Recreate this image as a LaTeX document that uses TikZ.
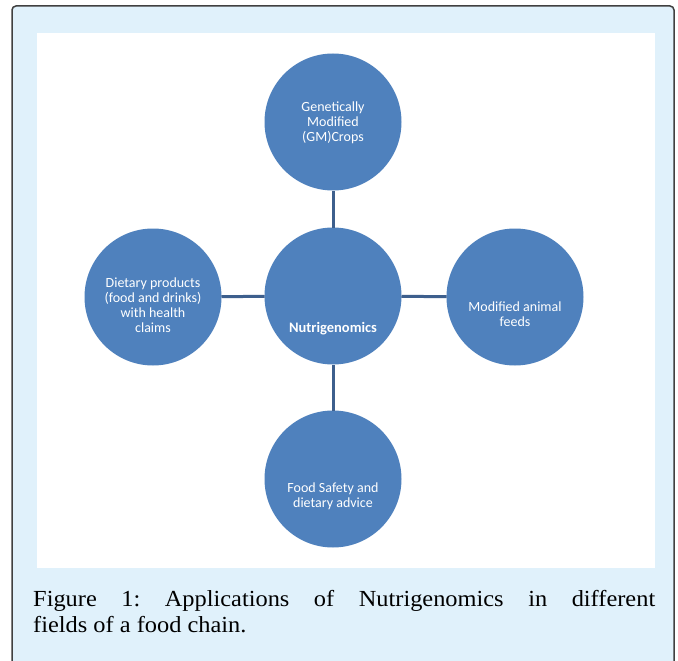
\documentclass[tikz,border=0pt]{standalone}
\usepackage{fontspec}
\setmainfont{Liberation Serif}
\newfontfamily\bubfont{Carlito}
\newfontfamily\capfont[FakeStretch=1.06]{Liberation Serif}
\usepackage{tikz}
\usetikzlibrary{positioning}
\definecolor{framebg}{HTML}{E0F1FB}
\definecolor{framegray}{HTML}{404040}
\definecolor{bubblue}{HTML}{4F81BD}
\definecolor{linkblue}{HTML}{3D5F8D}

\begin{document}
\begin{tikzpicture}[x=1pt, y=-1pt,
    bubble/.style={circle, fill=bubblue, minimum size=137pt, inner sep=0pt, outer sep=0pt},
    bubtext/.style={align=center, text=white, font=\bubfont\fontsize{14}{15}\selectfont, inner sep=0pt},
    link/.style={linkblue, line width=3pt},
    captext/.style={anchor=north west, inner sep=0pt, text width=622pt, align=justify,
        font=\capfont\fontsize{23}{26}\selectfont}
]
    \useasboundingbox (0,0) rectangle (678,661);
    \clip (0,0) rectangle (678,661);

    % Frame
    \draw[framegray, line width=1.5pt, fill=framebg, rounded corners=4pt] (12,6) rectangle (674,680);
    \fill[white] (37,33) rectangle (655,568);

    % Nodes
    \node[bubble] (hub) at (333,296) {};
    \node[bubble] (gm) at (333,122) {};
    \node[bubble] (diet) at (153,297) {};
    \node[bubble] (feed) at (515,297) {};
    \node[bubble] (safety) at (333,479) {};

    \node[bubtext, font=\bubfont\bfseries\fontsize{14.5}{15}\selectfont] (hubtext) at (333,329) {Nutrigenomics};
    \node[bubtext] (gmtext) at (333,123) {Genetically\\Modified\\(GM)Crops};
    \node[bubtext] (diettext) at (153,305) {Dietary products\\(food and drinks)\\with health\\claims};
    \node[bubtext] (feedtext) at (515,314) {Modified animal\\feeds};
    \node[bubtext] (safetytext) at (333,496) {Food Safety and\\dietary advice};

    % Relations
    \draw[link] (gm) -- (hub);
    \draw[link] (diet) -- (hub);
    \draw[link] (hub) -- (feed);
    \draw[link] (hub) -- (safety);

    % Caption
    \node[captext] (caption) at (33,590) {\tolerance=10000\frenchspacing Figure 1: Applications of Nutrigenomics in different\linebreak fields of a food chain.};
\end{tikzpicture}
\end{document}
